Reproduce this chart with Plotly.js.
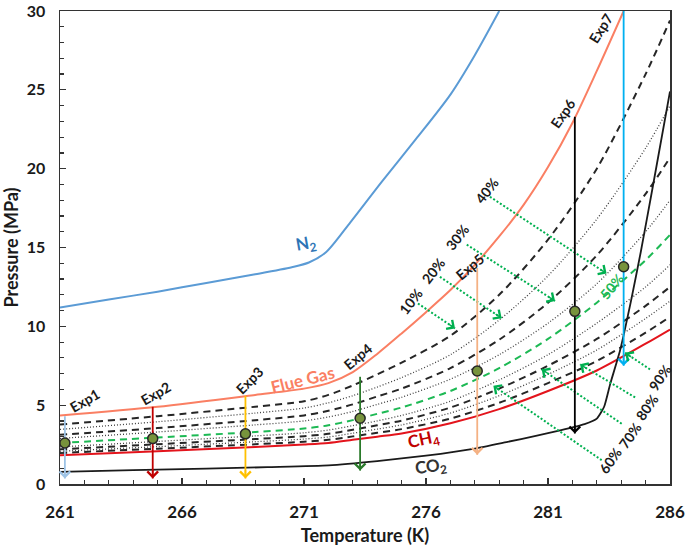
<!DOCTYPE html>
<html><head><meta charset="utf-8">
<script src="https://cdn.plot.ly/plotly-3.0.1.min.js"></script>
<style>html,body{margin:0;padding:0;background:#fff}#c{width:685px;height:546px}</style>
</head><body><div id="c"></div>
<script>
// ---- data ----
const T = [261,265,269,271,272,273,274,275,277,279,281,283,285,286];
const P10 = [3.77,4.3,4.9,5.25,5.65,6.25,6.95,7.7,9.4,12.0,15.5,20.0,26.0,29.4];
const P20 = [3.46,3.95,4.5,4.82,5.15,5.6,6.15,6.75,8.2,10.4,13.2,16.8,21.3,24.0];
const P30 = [3.12,3.55,4.05,4.35,4.65,5.05,5.55,6.05,7.35,9.15,11.5,14.5,18.4,20.7];
const P40 = [2.89,3.3,3.75,4.0,4.25,4.6,5.05,5.5,6.65,8.2,10.2,12.7,16.0,18.0];
const P50 = [2.6,2.95,3.3,3.52,3.72,4.05,4.45,4.85,5.9,7.35,9.2,11.5,14.2,15.8];
const P60 = [2.35,2.7,3.05,3.25,3.42,3.7,4.0,4.35,5.25,6.6,8.2,10.2,12.5,13.9];
const P70 = [2.2,2.52,2.85,3.03,3.18,3.44,3.72,4.02,4.85,6.05,7.5,9.2,11.3,12.5];
const P80 = [2.08,2.37,2.68,2.85,2.98,3.22,3.48,3.75,4.5,5.6,6.95,8.5,10.5,11.6];
const P90 = [1.97,2.24,2.52,2.68,2.8,3.02,3.25,3.48,4.15,5.15,6.4,7.8,9.6,10.6];
const PCH4 = [1.82,2.08,2.35,2.5,2.6,2.8,3.0,3.2,3.85,4.75,5.9,7.2,8.9,9.8];

const T_fg = [261,265,269,271,272,273,274,275,276,277,278,279,280,281,282,283,284.1];
const P_fg = [4.34,4.9,5.65,6.05,6.4,7.1,8.25,9.55,10.9,12.3,13.9,15.7,17.7,20.1,22.9,26.2,30.0];

const T_n2 = [261,263,265,267,269,270.5,271.2,271.9,272.9,274.2,275.6,277,278,279];
const P_n2 = [11.2,11.7,12.2,12.75,13.3,13.75,14.05,14.7,16.6,19.2,21.9,24.7,27.2,30.0];

const T_co2 = [261,264,267,269.5,272,274,276,278,279.3,280.5,281.5,282.5,283,283.3,283.55,283.95,284.4,284.8,285.3,286];
const P_co2 = [0.77,0.88,0.97,1.07,1.18,1.45,1.8,2.25,2.66,3.05,3.4,3.8,4.15,4.9,6.35,8.45,11.6,14.7,18.9,24.9];

const expNames = ['Exp1','Exp2','Exp3','Exp4','Exp5','Exp6','Exp7'];
const expT = [261.2,264.8,268.6,273.3,278.1,282.1,284.1];
const expStartP = [4.3,4.9,5.6,6.8,13.7,23.3,30.0];
const expEndP = [0.35,0.35,0.35,0.85,1.85,3.2,7.5];
const expPointP = [2.6,2.88,3.18,4.17,7.17,10.95,13.78];
const expLabelT = [262.0,264.9,268.75,273.2,277.8,281.6,283.15];
const expLabelP = [5.3,5.75,6.55,8.1,13.8,23.5,28.9];

const pctText = ['10%','20%','30%','40%','50%','60%','70%','80%','90%'];
const pctLabelT = [275.37,276.3,277.26,278.49,283.61,283.54,284.36,285.04,285.59];
const pctLabelP = [11.57,13.56,15.66,18.6,12.52,1.51,3.08,4.86,6.75];
const pctTailT = [275.67,276.57,277.67,278.62,null,283.2,284.02,284.57,285.18];
const pctTailP = [11.45,13.14,15.18,18.22,null,1.51,3.82,5.49,7.27];
const pctTipT = [277.19,279.1,281.29,283.4,null,278.76,280.74,282.31,284.16];
const pctTipP = [9.87,10.52,11.61,13.35,null,6.23,7.28,7.59,8.32];

// ---- styles ----
const FONT = 'Lato, "Open Sans", "DejaVu Sans", sans-serif';
const expColors = ['#9DC3E6','#C00000','#FFC000','#2A7A2A','#F4B183','#000000','#00B0F0'];
const expAngles = [-30,-30,-45,-40,-40,-55,-58];
const pctAngles = [-52,-52,-52,-52,-50,-55,-55,-55,-55];
const GREEN = '#00B050';
const dashed = {color:'#262626', width:2, dash:'7px,5px', shape:'spline', smoothing:0.8};
const dotted = {color:'#404040', width:1.3, dash:'1px,2px', shape:'spline', smoothing:0.8};

const traces = [];
function curve(x, y, line){ traces.push({x:x, y:y, mode:'lines', line:line, hoverinfo:'skip', showlegend:false}); }

curve(T_n2, P_n2, {color:'#5B9BD5', width:2, shape:'spline', smoothing:0.8});
curve(T_fg, P_fg, {color:'#FA7F63', width:2, shape:'spline', smoothing:0.8});
curve(T, P10, dashed);
curve(T, P20, dotted);
curve(T, P30, dashed);
curve(T, P40, dotted);
curve(T, P50, {color:'#1DB954', width:2, dash:'7px,5px', shape:'spline', smoothing:0.8});
curve(T, P60, dotted);
curve(T, P70, dashed);
curve(T, P80, dotted);
curve(T, P90, dashed);
curve(T, PCH4, {color:'#E3141C', width:2, shape:'spline', smoothing:0.8});
curve(T_co2, P_co2, {color:'#1a1a1a', width:1.8, shape:'spline', smoothing:0.5});

for (let i=0;i<pctText.length;i++){
  if (pctTailT[i]===null) continue;
  curve([pctTailT[i], pctTipT[i]], [pctTailP[i], pctTipP[i]], {color:GREEN, width:2, dash:'2px,2px'});
}
for (let i=0;i<expT.length;i++){
  curve([expT[i], expT[i]], [expStartP[i], expEndP[i]], {color:expColors[i], width:1.8});
}
traces.push({x:expT, y:expPointP, mode:'markers', hoverinfo:'skip', showlegend:false,
  marker:{size:10, color:'#77933C', line:{color:'#262626', width:1.5}}, cliponaxis:false});

const W = 685, H = 546, M = {l:60, r:15, t:11, b:62};
const xr = [261,286], yr = [0,30];
const pxT = (W-M.l-M.r)/(xr[1]-xr[0]);
const pxP = (H-M.t-M.b)/(yr[1]-yr[0]);

const ann = [];
for (let i=0;i<expT.length;i++){
  ann.push({x:expT[i], y:expEndP[i], xref:'x', yref:'y', ax:0, ay:-10, text:'', showarrow:true,
    arrowhead:4, arrowsize:1.3, arrowwidth:1.6, arrowcolor:expColors[i], standoff:0});
  ann.push({x:expLabelT[i], y:expLabelP[i], xref:'x', yref:'y', text:expNames[i], showarrow:false,
    textangle:expAngles[i], font:{family:FONT, size:14, color:'#1a1a1a', weight:'bold'}});
}
for (let i=0;i<pctText.length;i++){
  const isFifty = pctTailT[i]===null;
  ann.push({x:pctLabelT[i], y:pctLabelP[i], xref:'x', yref:'y', text:pctText[i], showarrow:false,
    textangle:pctAngles[i], font:{family:FONT, size:14, color:isFifty?'#1DB954':'#1a1a1a', weight:'bold'}});
  if (isFifty) continue;
  const dx = (pctTipT[i]-pctTailT[i])*pxT, dy = -(pctTipP[i]-pctTailP[i])*pxP;
  const n = Math.hypot(dx,dy);
  ann.push({x:pctTipT[i], y:pctTipP[i], xref:'x', yref:'y', ax:-dx/n*9, ay:-dy/n*9, text:'', showarrow:true,
    arrowhead:4, arrowsize:1.5, arrowwidth:1.4, arrowcolor:GREEN, standoff:0});
}
const lab = (x,y,t,c,a,s) => ann.push({x:x, y:y, xref:'x', yref:'y', text:t, showarrow:false, textangle:a,
  font:{family:FONT, size:s, color:c, weight:'bold'}});
lab(271.1, 15.2, 'N<sub>2</sub>', '#2E75B6', -10, 17);
lab(270.95, 6.65, 'Flue Gas', '#FA7F63', -14, 17);
lab(275.9, 2.77, 'CH<sub>4</sub>', '#C00000', -12, 17);
lab(276.2, 1.1, 'CO<sub>2</sub>', '#333333', -8, 17);

const axisCommon = {showgrid:false, zeroline:false, showline:true, linecolor:'#333', linewidth:1.5, mirror:true,
  ticks:'inside', ticklen:6, tickwidth:1.3, tickcolor:'#333', ticklabeloverflow:'allow'};

const layout = {
  width:W, height:H, margin:M, paper_bgcolor:'#fff', plot_bgcolor:'#fff', showlegend:false,
  xaxis:Object.assign({}, axisCommon, {range:xr, tick0:261, dtick:5, ticklabelstandoff:12,
    tickfont:{family:FONT, size:17, color:'#1a1a1a', weight:'bold'},
    minor:{dtick:1, ticks:'inside', ticklen:4, tickcolor:'#333', tickwidth:1.2},
    title:{text:'Temperature (K)', standoff:10, font:{family:FONT, size:18, color:'#1a1a1a', weight:'bold'}}}),
  yaxis:Object.assign({}, axisCommon, {range:yr, tick0:0, dtick:5, ticklabelstandoff:10,
    tickfont:{family:FONT, size:16, color:'#1a1a1a', weight:'bold'},
    minor:{dtick:1, ticks:'inside', ticklen:4, tickcolor:'#333', tickwidth:1.2},
    title:{text:'Pressure (MPa)', standoff:8, font:{family:FONT, size:18, color:'#1a1a1a', weight:'bold'}}}),
  annotations:ann
};
Plotly.newPlot('c', traces, layout, {staticPlot:true, displayModeBar:false});
</script></body></html>
